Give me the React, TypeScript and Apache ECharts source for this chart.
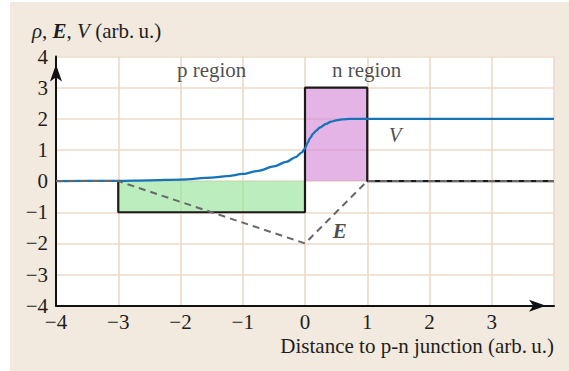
import React, { useEffect, useRef } from "react";
import * as echarts from "echarts";

// Axis ticks
const xTicks = [-4, -3, -2, -1, 0, 1, 2, 3, 4];
const yTicks = [-4, -3, -2, -1, 0, 1, 2, 3, 4];

// Charge density rho: outline of the two depletion blocks
const rhoX = [-3, -3, 0, 0, 1, 1, 4];
const rhoY = [0, -1, -1, 3, 3, 0, 0];

// Filled blocks of charge (p side negative, n side positive)
const pBlockX = [-3, 0];
const pBlockY = [-1, -1];
const nBlockX = [0, 1];
const nBlockY = [3, 3];

// Electric field E (dashed)
const eX = [-4, -3, 0, 1, 4];
const eY = [0, 0, -2, 0, 0];

// Potential V
const vX = [-4, -3, -2.5, -2, -1.5, -1.25, -1, -0.75, -0.5, -0.3, -0.15, -0.05, 0, 0.04, 0.08, 0.13, 0.18, 0.24, 0.34, 0.42, 0.5, 0.6, 0.72, 1, 2, 3, 4];
const vY = [0, 0.01, 0.025, 0.05, 0.11, 0.16, 0.23, 0.33, 0.47, 0.62, 0.77, 0.92, 1.05, 1.22, 1.38, 1.52, 1.62, 1.72, 1.84, 1.91, 1.95, 1.98, 2.0, 2.0, 2.0, 2.0, 2.0];

// Annotation texts and anchors
const noteTexts = ["{r|p region}", "{r|n region}", "{v|V}", "{e|E}"];
const noteX = [-1.5, 0.99, 1.45, 0.56];
const noteY = [3.56, 3.56, 1.49, -1.59];

const zip = (xs: number[], ys: number[]) => xs.map((x, i) => [x, ys[i]]);
const fmt = (v: number) => String(v).replace("-", "\u2212");

const SERIF = "'Liberation Serif', 'DejaVu Serif', serif";
const GRIDLINE = "#ecdac7";
const INK = "#1e1e1e";
const FS = 21;

export default function App() {
  const ref = useRef<HTMLDivElement>(null);

  useEffect(() => {
    if (!ref.current) return;
    const chart = echarts.init(ref.current, undefined, { renderer: "svg" });
    const axisCommon = {
      type: "value",
      min: -4,
      max: 4,
      interval: 1,
      axisLine: {
        show: true,
        onZero: false,
        lineStyle: { color: "#111", width: 2 },
        symbol: ["none", "arrow"],
        symbolSize: [9, 17],
        symbolOffset: [0, -8],
      },
      axisTick: { show: false },
      splitLine: { show: true, lineStyle: { color: GRIDLINE, width: 1.6 } },
    };
    chart.setOption({
      animation: false,
      textStyle: { fontFamily: SERIF },
      grid: {
        left: 56,
        right: 15,
        top: 56.5,
        bottom: 65.3,
        show: true,
        backgroundColor: "#ffffff",
        borderWidth: 0,
      },
      xAxis: {
        ...axisCommon,
        axisLabel: {
          margin: 6,
          fontSize: FS,
          color: INK,
          fontFamily: SERIF,
          showMaxLabel: false,
          formatter: (v: number) => fmt(v),
        },
      },
      yAxis: {
        ...axisCommon,
        axisLabel: {
          margin: 8,
          fontSize: FS,
          color: INK,
          fontFamily: SERIF,
          formatter: (v: number) => fmt(v),
        },
      },
      graphic: [
        {
          type: "text",
          x: 32,
          y: 31,
          style: {
            text: "{i|\u03c1}{r|, }{b|E}{r|, }{i|V}{r| (arb.\u2009u.)}",
            verticalAlign: "middle",
            align: "left",
            rich: {
              r: { fontSize: FS, fontFamily: SERIF, fill: INK },
              i: { fontStyle: "italic", fontSize: FS, fontFamily: SERIF, fill: INK },
              b: { fontStyle: "italic", fontWeight: "bold", fontSize: FS, fontFamily: SERIF, fill: INK },
            },
          },
        },
        {
          type: "text",
          x: 554,
          y: 346,
          style: {
            text: "Distance to p-n junction (arb.\u2009u.)",
            fill: INK,
            fontSize: FS,
            fontFamily: SERIF,
            align: "right",
            verticalAlign: "middle",
          },
        },
      ],
      series: [
        {
          type: "line",
          data: zip(pBlockX, pBlockY),
          symbol: "none",
          lineStyle: { width: 0 },
          areaStyle: { color: "rgba(149,227,154,0.9)", origin: 0 },
          silent: true,
          z: 1,
        },
        {
          type: "line",
          data: zip(nBlockX, nBlockY),
          symbol: "none",
          lineStyle: { width: 0 },
          areaStyle: { color: "rgba(212,136,216,0.9)", origin: 0 },
          silent: true,
          z: 1,
        },
        {
          type: "line",
          data: zip(rhoX, rhoY),
          symbol: "none",
          lineStyle: { color: "#1a1a1a", width: 2.2 },
          z: 3,
        },
        {
          type: "line",
          data: zip(vX, vY),
          symbol: "none",
          smooth: 0.3,
          smoothMonotone: "x",
          lineStyle: { color: "#1573b8", width: 2.3 },
          z: 4,
        },
        {
          type: "line",
          data: zip(eX, eY),
          symbol: "none",
          lineStyle: { color: "#686868", width: 2, type: [7, 5] },
          z: 5,
        },
        {
          type: "scatter",
          data: noteX.map((x, i) => ({ value: [x, noteY[i]], name: noteTexts[i] })),
          symbolSize: 0,
          silent: true,
          z: 6,
          label: {
            show: true,
            position: "inside",
            formatter: (p: any) => p.name,
            fontFamily: SERIF,
            fontSize: FS,
            color: INK,
            rich: {
              r: { fontSize: FS, fontFamily: SERIF, color: INK },
              v: { fontStyle: "italic", fontSize: FS, fontFamily: SERIF, color: INK },
              e: { fontStyle: "italic", fontWeight: "bold", fontSize: FS, fontFamily: SERIF, color: INK },
            },
          },
        },
      ],
    });
    return () => chart.dispose();
  }, []);

  return (
    <div style={{ position: "absolute", left: 0, top: 0, width: 569, height: 371, background: "#ffffff" }}>
      <div style={{ position: "absolute", left: 10, top: 2, width: 559, height: 369, background: "#f2eadf" }} />
      <div ref={ref} style={{ position: "absolute", left: 0, top: 0, width: 569, height: 371 }} />
    </div>
  );
}
